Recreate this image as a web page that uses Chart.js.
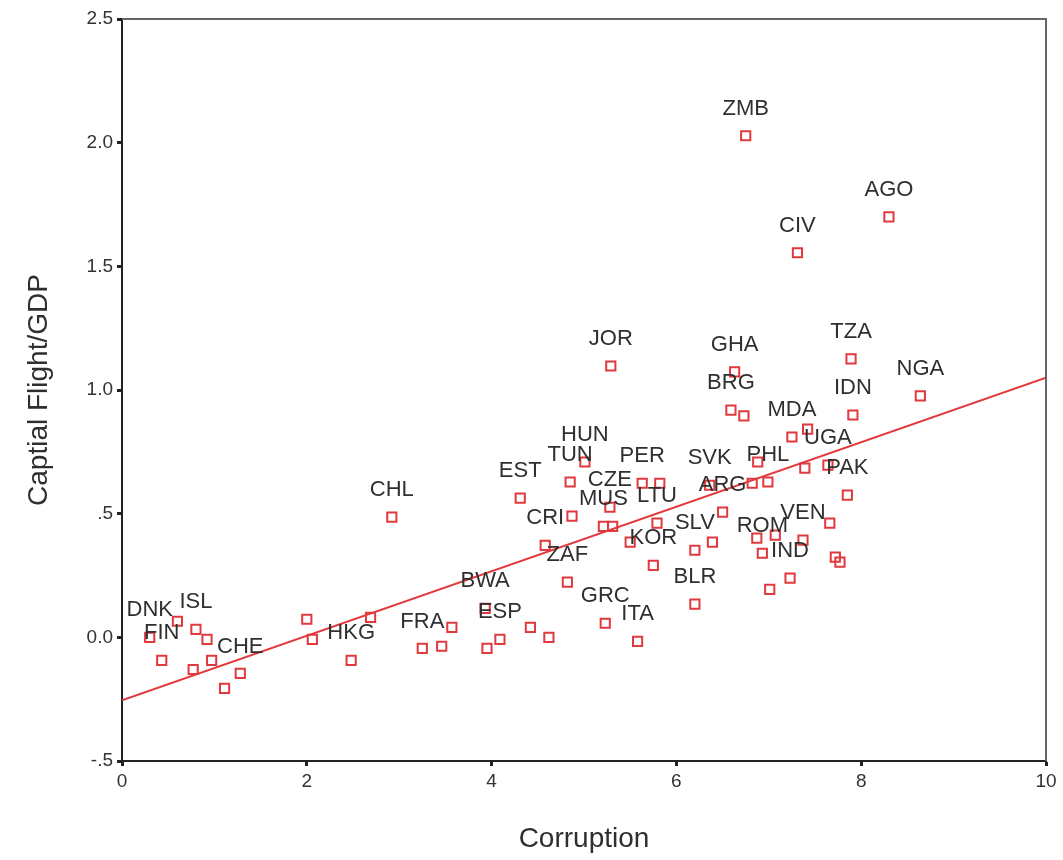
<!DOCTYPE html>
<html>
<head>
<meta charset="utf-8">
<script src="https://cdn.jsdelivr.net/npm/chart.js@4.4.1/dist/chart.umd.min.js"></script>
<style>
  body { margin: 0; background: #fff; }
  canvas { display: block; }
</style>
</head>
<body>
<canvas id="flightChart" width="1063" height="860"></canvas>
<script>
// Country codes ('' = unlabelled point)
const countries = [
  'DNK', '', 'ISL', '', 'FIN', '', '', '', 'CHE', '',
  '', '', 'HKG', 'FRA', '', '', 'BWA', '', 'ESP', '',
  '', 'ZAF', 'GRC', 'ITA', 'BLR', 'KOR', '', 'IND', 'CHL', 'EST',
  'CRI', '', 'TUN', 'HUN', 'CZE', 'MUS', '', 'PER', '', 'LTU',
  '', 'SLV', '', 'ARG', 'SVK', '', 'PHL', '', 'GHA', 'BRG',
  '', 'MDA', '', '', 'UGA', 'PAK', 'IDN', 'TZA', 'NGA', 'AGO',
  'CIV', 'ZMB', 'JOR', 'ROM', '', 'VEN', '', '', '', ''
];
const corruption = [
  0.30, 0.60, 0.80, 0.92, 0.43, 0.77, 0.97, 1.11, 1.28, 2.00,
  2.06, 2.69, 2.48, 3.25, 3.46, 3.57, 3.93, 3.95, 4.09, 4.42,
  4.62, 4.82, 5.23, 5.58, 6.20, 5.75, 7.01, 7.23, 2.92, 4.31,
  4.58, 4.87, 4.85, 5.01, 5.28, 5.21, 5.31, 5.63, 5.82, 5.79,
  5.50, 6.20, 6.39, 6.50, 6.36, 6.82, 6.99, 6.88, 6.63, 6.59,
  6.73, 7.25, 7.42, 7.39, 7.64, 7.85, 7.91, 7.89, 8.64, 8.30,
  7.31, 6.75, 5.29, 6.93, 6.87, 7.37, 7.07, 7.66, 7.72, 7.77
];
const capitalFlight = [
  0.000, 0.065, 0.032, -0.008, -0.093, -0.130, -0.093, -0.206, -0.146, 0.073,
  -0.008, 0.081, -0.093, -0.045, -0.036, 0.040, 0.117, -0.045, -0.008, 0.040,
  0.000, 0.223, 0.057, -0.016, 0.134, 0.291, 0.194, 0.239, 0.486, 0.563,
  0.372, 0.490, 0.628, 0.709, 0.526, 0.449, 0.449, 0.623, 0.623, 0.462,
  0.385, 0.352, 0.385, 0.506, 0.615, 0.623, 0.628, 0.709, 1.073, 0.919,
  0.895, 0.810, 0.842, 0.684, 0.696, 0.575, 0.899, 1.126, 0.976, 1.700,
  1.555, 2.028, 1.097, 0.340, 0.401, 0.393, 0.413, 0.462, 0.324, 0.304
];

// Fitted line end points
const fitX = [0, 10];
const fitY = [-0.255, 1.05];

const yTickLabels = { '-0.5': '-.5', '0': '0.0', '0.5': '.5', '1': '1.0', '1.5': '1.5', '2': '2.0', '2.5': '2.5' };

const points = corruption.map((x, i) => ({ x: x, y: capitalFlight[i] }));
const fitLine = fitX.map((x, i) => ({ x: x, y: fitY[i] }));

// Country labels above each square, and grey frame on top/right
const pointLabels = {
  id: 'pointLabels',
  afterDatasetsDraw(chart) {
    const ctx = chart.ctx;
    const meta = chart.getDatasetMeta(1);
    ctx.save();
    ctx.font = '22px "Liberation Sans", Arial, sans-serif';
    ctx.fillStyle = '#2f2f2f';
    ctx.textAlign = 'center';
    ctx.textBaseline = 'middle';
    meta.data.forEach((pt, i) => {
      if (countries[i]) ctx.fillText(countries[i], pt.x, pt.y - 27);
    });
    ctx.restore();
  }
};

const frame = {
  id: 'frame',
  afterDraw(chart) {
    const { ctx, chartArea: a } = chart;
    ctx.save();
    ctx.strokeStyle = '#666';
    ctx.lineWidth = 2;
    ctx.beginPath();
    ctx.moveTo(a.left, a.top);
    ctx.lineTo(a.right, a.top);
    ctx.lineTo(a.right, a.bottom);
    ctx.stroke();
    ctx.restore();
  }
};

const tickFont = { family: '"Liberation Sans", Arial, sans-serif', size: 19 };
const titleFont = { family: '"Liberation Sans", Arial, sans-serif', size: 28 };

new Chart(document.getElementById('flightChart'), {
  type: 'scatter',
  data: {
    datasets: [{
      type: 'line',
      data: fitLine,
      borderColor: '#e3383c',
      borderWidth: 2,
      pointRadius: 0,
      fill: false
    }, {
      data: points,
      pointStyle: 'rect',
      pointRadius: 6.5,
      borderWidth: 2,
      borderColor: '#e0393e',
      backgroundColor: 'rgba(255,255,255,0)'
    }]
  },
  options: {
    responsive: false,
    animation: false,
    devicePixelRatio: 1,
    layout: { padding: { top: 19, right: 17, bottom: 0, left: 0 } },
    plugins: {
      legend: { display: false },
      tooltip: { enabled: false }
    },
    scales: {
      x: {
        type: 'linear',
        min: 0,
        max: 10,
        ticks: { stepSize: 2, font: tickFont, color: '#333', padding: 4 },
        grid: { drawOnChartArea: false, tickLength: 5, tickWidth: 3, tickColor: '#222' },
        border: { color: '#222', width: 2 },
        title: { display: true, text: 'Corruption', font: titleFont, color: '#2f2f2f', padding: { top: 0, bottom: 4 } },
        afterFit(scale) { scale.height = 99; }
      },
      y: {
        min: -0.5,
        max: 2.5,
        ticks: {
          stepSize: 0.5,
          font: tickFont,
          color: '#333',
          padding: 4,
          callback: (v) => yTickLabels[String(v)] ?? v
        },
        grid: { drawOnChartArea: false, tickLength: 5, tickWidth: 3, tickColor: '#222' },
        border: { color: '#222', width: 2 },
        title: { display: true, text: 'Captial Flight/GDP', font: titleFont, color: '#2f2f2f', padding: { top: 22, bottom: 0 } },
        afterFit(scale) { scale.width = 122; }
      }
    }
  },
  plugins: [pointLabels, frame]
});
</script>
</body>
</html>
